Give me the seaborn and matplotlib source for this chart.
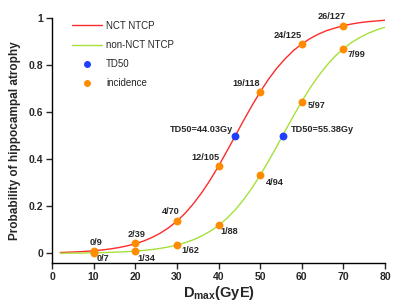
import numpy as np
import pandas as pd
import matplotlib
matplotlib.use("Agg")
import matplotlib.pyplot as plt
import seaborn as sns
from matplotlib.lines import Line2D

# ---- data ----
dose_curve = [2, 4, 6, 8, 10, 12, 14, 16, 18, 20, 22, 24, 26, 28, 30, 32, 34, 36, 38, 40,
              42, 44, 46, 48, 50, 52, 54, 56, 58, 60, 62, 64, 66, 68, 70, 72, 74, 76, 78, 80]
nct_ntcp = [0.0040, 0.0053, 0.0068, 0.0088, 0.0115, 0.0148, 0.0192, 0.0248, 0.0320, 0.0412,
            0.0528, 0.0676, 0.0861, 0.109, 0.137, 0.171, 0.212, 0.259, 0.312, 0.371,
            0.434, 0.499, 0.564, 0.627, 0.686, 0.740, 0.787, 0.827, 0.862, 0.890,
            0.913, 0.932, 0.947, 0.958, 0.968, 0.975, 0.981, 0.985, 0.988, 0.991]
non_nct_ntcp = [0.0010, 0.0013, 0.0016, 0.0021, 0.0027, 0.0035, 0.0046, 0.0059, 0.0077, 0.0100,
                0.0129, 0.0166, 0.0215, 0.0277, 0.0356, 0.0457, 0.0584, 0.0745, 0.0945, 0.119,
                0.149, 0.185, 0.228, 0.277, 0.332, 0.392, 0.455, 0.520, 0.584, 0.646,
                0.703, 0.754, 0.799, 0.838, 0.870, 0.897, 0.918, 0.936, 0.950, 0.961]

inc_dose = [10, 20, 30, 40, 50, 60, 70]
nct_inc = [0.010, 0.043, 0.139, 0.373, 0.685, 0.889, 0.968]
nct_labels = ["0/9", "2/39", "4/70", "12/105", "19/118", "24/125", "26/127"]
non_nct_inc = [0.0, 0.010, 0.034, 0.119, 0.333, 0.645, 0.869]
non_nct_labels = ["0/7", "1/34", "1/62", "1/88", "4/94", "5/97", "7/99"]

td50_dose = [44.03, 55.38]
td50_prob = [0.5, 0.5]
td50_labels = ["TD50=44.03Gy", "TD50=55.38Gy"]

# label positions (data coords)
nct_label_pos = [(10.5, 0.048), (20.4, 0.080), (28.6, 0.177), (36.8, 0.407),
                 (46.6, 0.722), (56.7, 0.927), (67.2, 1.008)]
non_nct_label_pos = [(12.3, -0.020), (22.6, -0.021), (33.2, 0.014), (42.6, 0.095),
                     (53.5, 0.302), (63.6, 0.627), (73.2, 0.846)]

RED = "#ff2a2a"
GREEN = "#a6e03a"
BLUE = "#1f3fff"
ORANGE = "#ff8c00"

sns.set_style("ticks")
plt.rcParams["font.family"] = ["Liberation Sans", "DejaVu Sans"]
plt.rcParams["mathtext.fontset"] = "custom"
plt.rcParams["mathtext.rm"] = "Liberation Sans:bold"
plt.rcParams["mathtext.bf"] = "Liberation Sans:bold"

fig = plt.figure(figsize=(4.0, 3.07), dpi=100)
ax = fig.add_axes([0.13, 0.143, 0.8325, 0.798])

curves = pd.DataFrame({"dose": dose_curve * 2,
                       "prob": nct_ntcp + non_nct_ntcp,
                       "group": ["NCT NTCP"] * len(dose_curve) + ["non-NCT NTCP"] * len(dose_curve)})
sns.lineplot(data=curves, x="dose", y="prob", hue="group",
             palette={"NCT NTCP": RED, "non-NCT NTCP": GREEN},
             linewidth=1.0, ax=ax, legend=False)

td = pd.DataFrame({"dose": td50_dose, "prob": td50_prob})
inc = pd.DataFrame({"dose": inc_dose + inc_dose, "prob": nct_inc + non_nct_inc})
sns.scatterplot(data=inc, x="dose", y="prob", color=ORANGE, s=32, linewidth=0,
                ax=ax, zorder=5, clip_on=False)
sns.scatterplot(data=td, x="dose", y="prob", color=BLUE, s=32, linewidth=0,
                ax=ax, zorder=6)

fs_ann = 6.6
for lab, (x, y) in zip(nct_labels, nct_label_pos):
    ax.text(x, y, lab, ha="center", va="center", fontsize=fs_ann, fontweight="bold", clip_on=False)
for lab, (x, y) in zip(non_nct_labels, non_nct_label_pos):
    ax.text(x, y, lab, ha="center", va="center", fontsize=fs_ann, fontweight="bold", clip_on=False)
ax.text(43.5, 0.528, td50_labels[0], ha="right", va="center", fontsize=fs_ann, fontweight="bold")
ax.text(57.3, 0.528, td50_labels[1], ha="left", va="center", fontsize=fs_ann, fontweight="bold")

handles = [Line2D([], [], color=RED, lw=1.0),
           Line2D([], [], color=GREEN, lw=1.0),
           Line2D([], [], color=BLUE, marker="o", ls="", ms=4),
           Line2D([], [], color=ORANGE, marker="o", ls="", ms=4)]
ax.legend(handles, ["NCT NTCP", "non-NCT NTCP", "TD50", "incidence"],
          loc="upper left", bbox_to_anchor=(0.035, 1.025), frameon=False,
          fontsize=7, handlelength=3.0, labelspacing=0.95, handletextpad=0.45)

ax.set_xlim(0, 80)
ax.set_ylim(-0.041, 1.0)
ax.set_xticks([0, 10, 20, 30, 40, 50, 60, 70, 80])
ax.set_yticks([0, 0.2, 0.4, 0.6, 0.8, 1.0])
ax.set_yticklabels(["0", "0.2", "0.4", "0.6", "0.8", "1"])
ax.tick_params(labelsize=7.5, length=4, width=1, direction="out", pad=2.5)
for t in ax.get_xticklabels() + ax.get_yticklabels():
    t.set_fontweight("bold")
for s in ["left", "bottom"]:
    ax.spines[s].set_linewidth(1.0)
    ax.spines[s].set_color("black")
sns.despine(ax=ax)

ax.set_xlabel(r"D$_{\mathrm{max}}$(GyE)", fontsize=10.5, fontweight="bold", labelpad=1)
ax.set_ylabel("Probability of hippocampal atrophy", fontsize=8.5, fontweight="bold", labelpad=5)

fig.savefig("out.png", dpi=100)
